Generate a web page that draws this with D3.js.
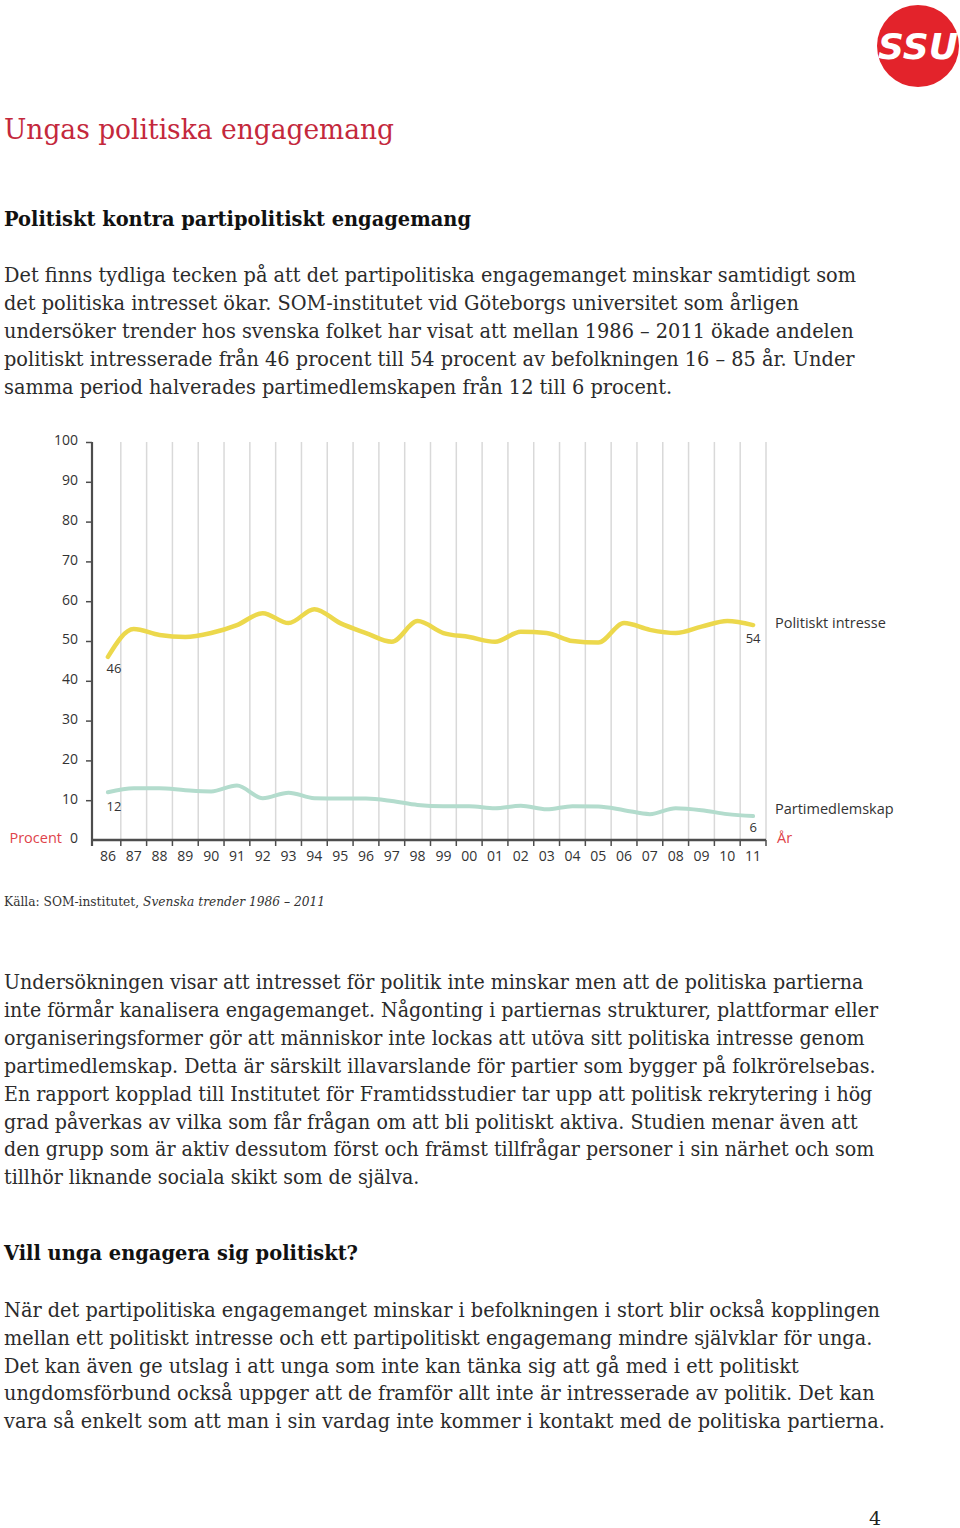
<!DOCTYPE html>
<html><head><meta charset="utf-8">
<script src="https://cdn.jsdelivr.net/npm/d3@7/dist/d3.min.js"></script>
<style>html,body{margin:0;padding:0;background:#fff;}svg{display:block;}</style>
</head><body>
<script>
// ---------- data ----------
const years = ["86","87","88","89","90","91","92","93","94","95","96","97","98","99","00","01","02","03","04","05","06","07","08","09","10","11"];
const politisktIntresse = [46,53,51.5,51,52,54,57,54.5,58,54.5,52,49.8,55,52,51,49.8,52.3,52,50,49.6,54.5,52.8,52,53.6,55,54];
const partimedlemskap = [12,13,13,12.5,12.2,13.7,10.5,11.9,10.5,10.4,10.4,9.8,8.8,8.5,8.5,8,8.6,7.7,8.5,8.4,7.5,6.5,8,7.5,6.5,6];
const yTicks = [0,10,20,30,40,50,60,70,80,90,100];
const seriesNames = ["Politiskt intresse","Partimedlemskap"];
const endLabels = ["46","54","12","6"];

const title = "Ungas politiska engagemang";
const heading1 = "Politiskt kontra partipolitiskt engagemang";
const para1 = [
"Det finns tydliga tecken på att det partipolitiska engagemanget minskar samtidigt som",
"det politiska intresset ökar. SOM-institutet vid Göteborgs universitet som årligen",
"undersöker trender hos svenska folket har visat att mellan 1986 – 2011 ökade andelen",
"politiskt intresserade från 46 procent till 54 procent av befolkningen 16 – 85 år. Under",
"samma period halverades partimedlemskapen från 12 till 6 procent."];
const para2 = [
"Undersökningen visar att intresset för politik inte minskar men att de politiska partierna",
"inte förmår kanalisera engagemanget. Någonting i partiernas strukturer, plattformar eller",
"organiseringsformer gör att människor inte lockas att utöva sitt politiska intresse genom",
"partimedlemskap. Detta är särskilt illavarslande för partier som bygger på folkrörelsebas.",
"En rapport kopplad till Institutet för Framtidsstudier tar upp att politisk rekrytering i hög",
"grad påverkas av vilka som får frågan om att bli politiskt aktiva. Studien menar även att",
"den grupp som är aktiv dessutom först och främst tillfrågar personer i sin närhet och som",
"tillhör liknande sociala skikt som de själva."];
const heading2 = "Vill unga engagera sig politiskt?";
const para3 = [
"När det partipolitiska engagemanget minskar i befolkningen i stort blir också kopplingen",
"mellan ett politiskt intresse och ett partipolitiskt engagemang mindre självklar för unga.",
"Det kan även ge utslag i att unga som inte kan tänka sig att gå med i ett politiskt",
"ungdomsförbund också uppger att de framför allt inte är intresserade av politik. Det kan",
"vara så enkelt som att man i sin vardag inte kommer i kontakt med de politiska partierna."];

// ---------- svg ----------
const W = 960, H = 1528;
const svg = d3.select("body").append("svg").attr("width", W).attr("height", H);

const serif = "'DejaVu Serif', serif";
const sans = "'Open Sans', 'Noto Sans', sans-serif";

// logo
const logo = svg.append("g");
logo.append("circle").attr("cx", 918).attr("cy", 46).attr("r", 41).attr("fill", "#e3232b");
logo.append("text").attr("x", 878).attr("y", 59).text("SSU")
  .attr("font-family", "'DejaVu Sans', sans-serif").attr("font-weight", "bold").attr("font-style", "italic")
  .attr("font-size", 36).attr("fill", "#fff").attr("textLength", 80).attr("lengthAdjust", "spacingAndGlyphs");

// helper to write a scaled text line
function fitLine(g, str, x, y, size, weight, color, scale) {
  const t = g.append("text").attr("x", x).attr("y", y).text(str)
    .attr("font-family", serif).attr("font-size", size).attr("font-weight", weight || "normal")
    .attr("fill", color);
  const len = t.node().getComputedTextLength();
  t.attr("textLength", len * scale).attr("lengthAdjust", "spacingAndGlyphs");
  return t;
}
function scaleFor(str, size, weight, target) {
  const t = svg.append("text").text(str).attr("font-family", serif).attr("font-size", size).attr("font-weight", weight || "normal");
  const len = t.node().getComputedTextLength();
  t.remove();
  return target / len;
}

const tg = svg.append("g");
fitLine(tg, title, 4, 139, 28, "normal", "#c4283c", scaleFor(title, 28, "normal", 390));
fitLine(tg, heading1, 4, 226, 21, "bold", "#111", scaleFor(heading1, 21, "bold", 467));
fitLine(tg, heading2, 4, 1260, 21, "bold", "#111", scaleFor(heading2, 21, "bold", 354));

const bodySize = 19.5;
const bodyColor = "#2b2b2b";
const s1 = scaleFor(para1[0], bodySize, "normal", 852);
const s2 = scaleFor(para2[1], bodySize, "normal", 874);
const s3 = scaleFor(para3[0], bodySize, "normal", 876);
para1.forEach((l, i) => fitLine(tg, l, 4, 282 + i * 28, bodySize, "normal", bodyColor, s1));
para2.forEach((l, i) => fitLine(tg, l, 4, 989 + i * 27.9, bodySize, "normal", bodyColor, s2));
para3.forEach((l, i) => fitLine(tg, l, 4, 1317 + i * 27.8, bodySize, "normal", bodyColor, s3));

// source line
const src = svg.append("text").attr("x", 4).attr("y", 906).attr("font-family", serif).attr("font-size", 13).attr("fill", "#333");
src.append("tspan").text("Källa: SOM-institutet, ");
src.append("tspan").attr("font-style", "italic").text("Svenska trender 1986 – 2011");
src.attr("textLength", 321).attr("lengthAdjust", "spacingAndGlyphs");

// page number
svg.append("text").attr("x", 875).attr("y", 1525).attr("text-anchor", "middle")
  .attr("font-family", serif).attr("font-size", 19).attr("fill", "#222").text("4");

// ---------- chart ----------
const x = d3.scaleBand().domain(years).range([95, 766]).paddingInner(0).paddingOuter(0);
const y = d3.scaleLinear().domain([0, 100]).range([840, 442]);
const cx = d => x(d) + x.bandwidth() / 2;
const axisColor = "#4d4d4d";
const labelColor = "#333";

const chart = svg.append("g");

// vertical gridlines at band boundaries
chart.append("g").selectAll("line").data(years).join("line")
  .attr("x1", d => x(d) + x.bandwidth()).attr("x2", d => x(d) + x.bandwidth())
  .attr("y1", y(100)).attr("y2", y(0))
  .attr("stroke", "#d9d9d9").attr("stroke-width", 1.5);

// y axis
const yAxis = d3.axisLeft(y).tickValues(yTicks).tickSize(6).tickPadding(8).tickFormat(d3.format("d"));
const ya = chart.append("g").attr("transform", "translate(92,0)").call(yAxis);
ya.select(".domain").remove();
ya.selectAll(".tick line").attr("stroke", axisColor).attr("stroke-width", 1.5);
ya.selectAll(".tick").filter(d => d === 0).select("line").remove();
ya.selectAll("text").attr("font-family", sans).attr("font-size", 14).attr("fill", labelColor).attr("dy", "0.2em");
chart.append("line").attr("x1", 92).attr("x2", 92).attr("y1", y(100)).attr("y2", 846)
  .attr("stroke", axisColor).attr("stroke-width", 2.2);

// x axis
chart.append("line").attr("x1", 92).attr("x2", 766).attr("y1", y(0)).attr("y2", y(0))
  .attr("stroke", axisColor).attr("stroke-width", 2.5);
chart.append("g").selectAll("line").data(years).join("line")
  .attr("x1", d => x(d) + x.bandwidth()).attr("x2", d => x(d) + x.bandwidth())
  .attr("y1", y(0)).attr("y2", y(0) + 6)
  .attr("stroke", axisColor).attr("stroke-width", 1.5);
chart.append("g").selectAll("text").data(years).join("text")
  .attr("x", d => cx(d)).attr("y", 861).attr("text-anchor", "middle")
  .attr("font-family", sans).attr("font-size", 14).attr("fill", labelColor).text(d => d);

// lines
const line = d3.line().x((d, i) => cx(years[i])).y(d => y(d)).curve(d3.curveMonotoneX);
chart.append("path").datum(partimedlemskap).attr("d", line)
  .attr("fill", "none").attr("stroke", "#b3dccd").attr("stroke-width", 4).attr("stroke-linejoin", "round").attr("stroke-linecap", "round");
chart.append("path").datum(politisktIntresse).attr("d", line)
  .attr("fill", "none").attr("stroke", "#ecd84c").attr("stroke-width", 4.5).attr("stroke-linejoin", "round").attr("stroke-linecap", "round");

// end labels
const lblStyle = s => s.attr("font-family", sans).attr("font-size", 13).attr("fill", labelColor).attr("text-anchor", "middle");
chart.append("text").attr("x", cx(years[0]) + 6).attr("y", y(politisktIntresse[0]) + 16).text(endLabels[0]).call(lblStyle);
chart.append("text").attr("x", cx(years[25])).attr("y", y(politisktIntresse[25]) + 18).text(endLabels[1]).call(lblStyle);
chart.append("text").attr("x", cx(years[0]) + 6).attr("y", y(partimedlemskap[0]) + 19).text(endLabels[2]).call(lblStyle);
chart.append("text").attr("x", cx(years[25])).attr("y", y(partimedlemskap[25]) + 16).text(endLabels[3]).call(lblStyle);

// legend labels
chart.append("text").attr("x", 775).attr("y", y(politisktIntresse[25]) + 3).text(seriesNames[0])
  .attr("font-family", sans).attr("font-size", 14.5).attr("fill", labelColor);
chart.append("text").attr("x", 775).attr("y", y(partimedlemskap[25]) - 2).text(seriesNames[1])
  .attr("font-family", sans).attr("font-size", 14.5).attr("fill", labelColor);
chart.append("text").attr("x", 777).attr("y", 843).text("År")
  .attr("font-family", sans).attr("font-size", 14.5).attr("fill", "#e0434a");
chart.append("text").attr("x", 62).attr("y", 843).attr("text-anchor", "end").text("Procent")
  .attr("font-family", sans).attr("font-size", 14.5).attr("fill", "#e0434a");
</script>
</body></html>
